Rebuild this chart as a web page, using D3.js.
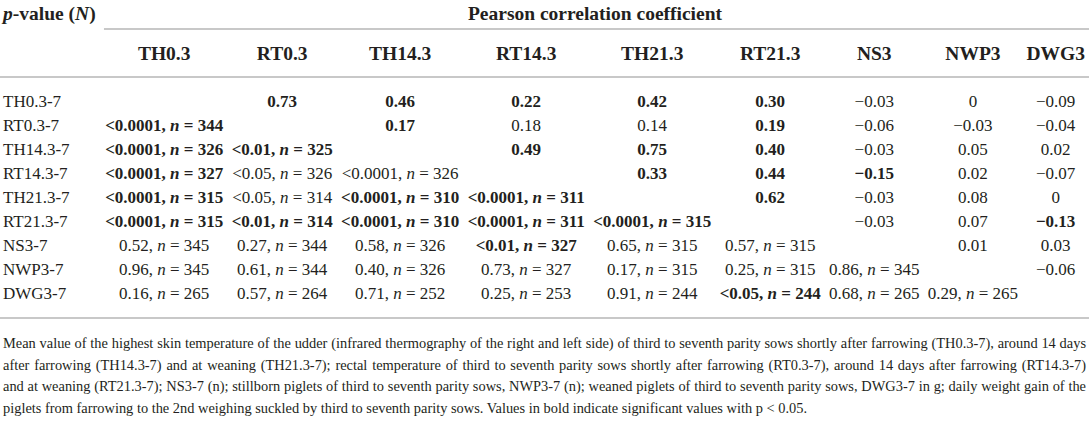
<!DOCTYPE html>
<html>
<head>
<meta charset="utf-8">
<script src="https://cdn.jsdelivr.net/npm/d3@7"></script>
<style>
  body { margin: 0; background: #fff; }
  svg text { font-family: "Liberation Serif", "Times New Roman", serif; fill: #231f20; white-space: pre; }
</style>
</head>
<body>
<svg id="chart" width="1089" height="444"></svg>
<script>
// column variables (Pearson correlation coefficient) and row variables (p-value, N)
const columns = ["TH0.3", "RT0.3", "TH14.3", "RT14.3", "TH21.3", "RT21.3", "NS3", "NWP3", "DWG3"];
const rowLabels = ["TH0.3-7", "RT0.3-7", "TH14.3-7", "RT14.3-7", "TH21.3-7", "RT21.3-7", "NS3-7", "NWP3-7", "DWG3-7"];

// upper triangle: row i holds the coefficients for columns i+1 .. end
const coefficients = [
  [0.73, 0.46, 0.22, 0.42, 0.30, -0.03, 0, -0.09],
  [0.17, 0.18, 0.14, 0.19, -0.06, -0.03, -0.04],
  [0.49, 0.75, 0.40, -0.03, 0.05, 0.02],
  [0.33, 0.44, -0.15, 0.02, -0.07],
  [0.62, -0.03, 0.08, 0],
  [-0.03, 0.07, -0.13],
  [0.01, 0.03],
  [-0.06],
  []
];
const coefficientBold = [
  [1, 1, 1, 1, 1, 0, 0, 0],
  [1, 0, 0, 1, 0, 0, 0],
  [1, 1, 1, 0, 0, 0],
  [1, 1, 1, 0, 0],
  [1, 0, 0, 0],
  [0, 0, 1],
  [0, 0],
  [0],
  []
];

// lower triangle: row i holds p-value and n for columns 0 .. i-1
const pValues = [
  [],
  ["<0.0001"],
  ["<0.0001", "<0.01"],
  ["<0.0001", "<0.05", "<0.0001"],
  ["<0.0001", "<0.05", "<0.0001", "<0.0001"],
  ["<0.0001", "<0.01", "<0.0001", "<0.0001", "<0.0001"],
  ["0.52", "0.27", "0.58", "<0.01", "0.65", "0.57"],
  ["0.96", "0.61", "0.40", "0.73", "0.17", "0.25", "0.86"],
  ["0.16", "0.57", "0.71", "0.25", "0.91", "<0.05", "0.68", "0.29"]
];
const sampleSizes = [
  [],
  [344],
  [326, 325],
  [327, 326, 326],
  [315, 314, 310, 311],
  [315, 314, 310, 311, 315],
  [345, 344, 326, 327, 315, 315],
  [345, 344, 326, 327, 315, 315, 345],
  [265, 264, 252, 253, 244, 244, 265, 265]
];
const pValueBold = [
  [],
  [1],
  [1, 1],
  [1, 0, 0],
  [1, 0, 1, 1],
  [1, 1, 1, 1, 1],
  [0, 0, 0, 1, 0, 0],
  [0, 0, 0, 0, 0, 0, 0],
  [0, 0, 0, 0, 0, 1, 0, 0]
];

const footnoteLines = [
  "Mean value of the highest skin temperature of the udder (infrared thermography of the right and left side) of third to seventh parity sows shortly after farrowing (TH0.3-7), around 14 days",
  "after farrowing (TH14.3-7) and at weaning (TH21.3-7); rectal temperature of third to seventh parity sows shortly after farrowing (RT0.3-7), around 14 days after farrowing (RT14.3-7)",
  "and at weaning (RT21.3-7); NS3-7 (n); stillborn piglets of third to seventh parity sows, NWP3-7 (n); weaned piglets of third to seventh parity sows, DWG3-7 in g; daily weight gain of the",
  "piglets from farrowing to the 2nd weighing suckled by third to seventh parity sows. Values in bold indicate significant values with p < 0.05."
];

const W = 1089;
const bodySize = 17, headSize = 19.5, noteSize = 14.4;
const pad = 4;
const lineColor = "#c8c8c8";

const svg = d3.select("#chart");
const fmt = v => v === 0 ? "0" : d3.format(".2f")(v);

const y = d3.scaleBand().domain(rowLabels).range([89, 305]);
const rowMid = r => y(r) + y.bandwidth() / 2;

// build the cells
const cells = [];
rowLabels.forEach((r, i) => {
  pValues[i].forEach((p, j) => cells.push({
    row: r, col: columns[j], bold: pValueBold[i][j],
    parts: [{t: p + ", "}, {t: "n", italic: true}, {t: " = " + sampleSizes[i][j]}]
  }));
  coefficients[i].forEach((c, k) => cells.push({
    row: r, col: columns[i + 1 + k], bold: coefficientBold[i][k],
    parts: [{t: fmt(c)}]
  }));
});

// header: p-value (N)
const pHead = svg.append("text")
  .attr("x", 3).attr("y", 13).attr("dy", "0.35em")
  .attr("font-size", headSize).attr("font-weight", "bold");
pHead.selectAll("tspan")
  .data([{t: "p", italic: true}, {t: "-value ("}, {t: "N", italic: true}, {t: ")"}])
  .join("tspan")
  .attr("font-style", d => d.italic ? "italic" : null)
  .text(d => d.t);

const pearson = svg.append("text")
  .attr("y", 13).attr("dy", "0.35em")
  .attr("text-anchor", "middle")
  .attr("font-size", headSize).attr("font-weight", "bold")
  .text("Pearson correlation coefficient");

const colHeads = svg.append("g").selectAll("text")
  .data(columns)
  .join("text")
  .attr("y", 53).attr("dy", "0.35em")
  .attr("text-anchor", "middle")
  .attr("font-size", headSize).attr("font-weight", "bold")
  .text(d => d);

const rowHeads = svg.append("g").selectAll("text")
  .data(rowLabels)
  .join("text")
  .attr("x", 3)
  .attr("y", d => rowMid(d)).attr("dy", "0.35em")
  .attr("font-size", bodySize)
  .text(d => d);

const cellText = svg.append("g").selectAll("text")
  .data(cells)
  .join("text")
  .attr("y", d => rowMid(d.row)).attr("dy", "0.35em")
  .attr("text-anchor", "middle")
  .attr("font-size", bodySize)
  .attr("font-weight", d => d.bold ? "bold" : "normal");
cellText.selectAll("tspan")
  .data(d => d.parts)
  .join("tspan")
  .attr("font-style", p => p.italic ? "italic" : null)
  .text(p => p.t);

// auto table layout: content width + padding, stretched to the full width
const keys = ["label", ...columns];
const contentWidth = new Map(keys.map(k => [k, 0]));
const grow = (k, w) => contentWidth.set(k, Math.max(contentWidth.get(k), w));
grow("label", pHead.node().getComputedTextLength());
rowHeads.each(function() { grow("label", this.getComputedTextLength()); });
colHeads.each(function(d) { grow(d, this.getComputedTextLength()); });
cellText.each(function(d) { grow(d.col, this.getComputedTextLength()); });

const natural = keys.map(k => contentWidth.get(k) + 2 * pad);
const k = W / d3.sum(natural);
const widths = natural.map(w => w * k);
const lefts = widths.map((w, i) => d3.sum(widths.slice(0, i)));
const x = d3.scaleOrdinal().domain(keys).range(lefts);
const colWidth = d3.scaleOrdinal().domain(keys).range(widths);
const colMid = c => x(c) + colWidth(c) / 2;

colHeads.attr("x", d => colMid(d));
cellText.attr("x", d => colMid(d.col));
pearson.attr("x", (x(columns[0]) + W) / 2);

// rules
const rules = [
  {y: 29, x1: x(columns[0]) + 3, x2: W},
  {y: 77, x1: 0, x2: W},
  {y: 318, x1: 0, x2: W}
];
svg.append("g").selectAll("line")
  .data(rules)
  .join("line")
  .attr("x1", d => d.x1).attr("x2", d => d.x2)
  .attr("y1", d => d.y).attr("y2", d => d.y)
  .attr("stroke", lineColor).attr("stroke-width", 2);

// footnote, justified except the last line
const noteY = d3.scaleLinear().domain([0, 1]).range([343, 364.5]);
const noteLeft = 3, noteRight = 1086;
svg.append("g").selectAll("text")
  .data(footnoteLines)
  .join("text")
  .attr("x", noteLeft)
  .attr("y", (d, i) => noteY(i)).attr("dy", "0.35em")
  .attr("font-size", noteSize)
  .text(d => d)
  .each(function(d, i) {
    if (i === footnoteLines.length - 1) return;
    const natW = this.getComputedTextLength();
    const gaps = d.split(" ").length - 1;
    d3.select(this).attr("word-spacing", (noteRight - noteLeft - natW) / gaps);
  });
</script>
</body>
</html>
